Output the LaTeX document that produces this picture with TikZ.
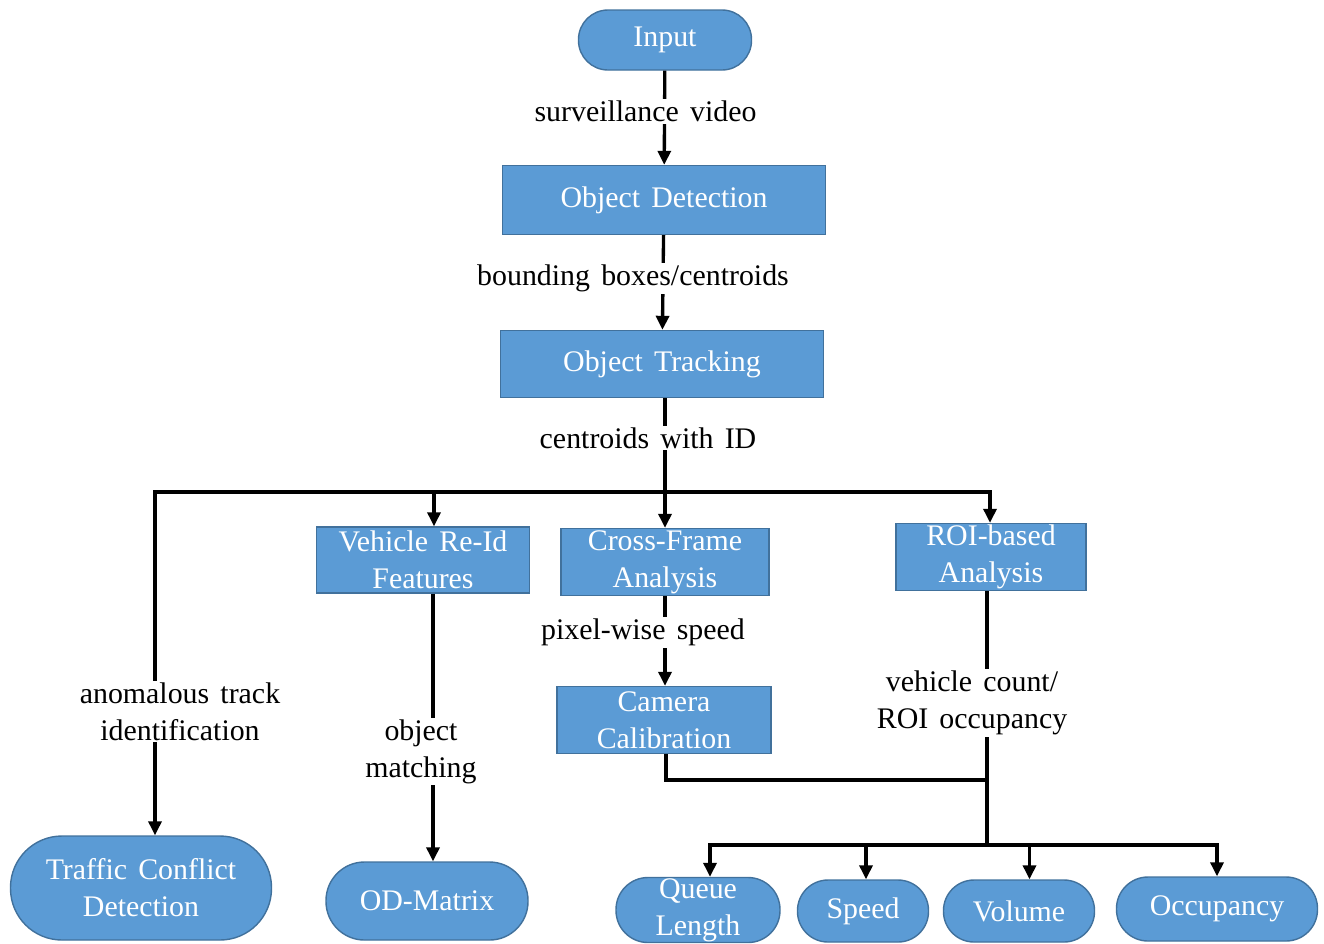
\documentclass[tikz,border=0pt]{standalone}
\usepackage{fontspec}
\setmainfont{Liberation Serif}[WordSpace=1.5]
\usepackage{tikz}
\usetikzlibrary{arrows.meta,positioning,calc}
\definecolor{boxfill}{HTML}{5B9BD5}
\definecolor{boxline}{HTML}{41719C}
\tikzset{
  box/.style={draw=boxline, line width=0.8pt, fill=boxfill, text=white,
    align=center, inner sep=0pt, font=\fontsize{17}{21}\selectfont},
  term/.style={box, rounded corners=#1},
  lbl/.style={fill=white, inner sep=1pt, align=center,
    font=\fontsize{17}{21}\selectfont},
  link/.style={line width=1.9pt, draw=black},
  flow/.style={link, -{Triangle[length=2.8mm, width=2.6mm]}},
}

\begin{document}
\begin{tikzpicture}[x=0.2mm, y=-0.2mm]
\useasboundingbox (0,0) rectangle (1324,943);
% ---------- main chain ----------
\node[term=5.9mm, minimum width=34.6mm, minimum height=12mm] (input) at (665,40) {Input};
\node[box, minimum width=64.6mm, minimum height=13.8mm] (detect) at (664,200) {Object Detection};
\node[box, minimum width=64.6mm, minimum height=13.4mm] (track) at (662,364) {Object Tracking};

% ---------- second row ----------
\node[box, minimum width=42.6mm, minimum height=13.2mm] (reid) at (423,560) {Vehicle Re-Id\\Features};
\node[box, minimum width=41.6mm, minimum height=13.4mm] (cross) at (665,562) {Cross-Frame\\Analysis};
\node[box, minimum width=38mm, minimum height=13.4mm] (roi) at (991,557) {ROI-based\\Analysis};
\node[box, minimum width=42.8mm, minimum height=13.4mm] (camera) at (664,720) {Camera\\Calibration};

% ---------- outputs ----------
\node[term=10.3mm, minimum width=52.2mm, minimum height=20.8mm] (conflict) at (141,888) {Traffic Conflict\\Detection};
\node[term=7.7mm, minimum width=40.4mm, minimum height=15.6mm] (odm) at (427,901) {OD-Matrix};
\node[term=6.4mm, minimum width=32.8mm, minimum height=13mm] (queue) at (698,910) {Queue\\Length};
\node[term=6.1mm, minimum width=26.2mm, minimum height=12.4mm] (speed) at (863,911) {Speed};
\node[term=6.1mm, minimum width=30.2mm, minimum height=12.4mm] (volume) at (1019,911) {Volume};
\node[term=6.3mm, minimum width=40.2mm, minimum height=12.8mm] (occup) at (1217,909) {Occupancy};

% ---------- junctions ----------
\coordinate (split) at (665,492);
\coordinate (merge) at (987,780);
\coordinate (join) at (987,845);

% ---------- connectors ----------
\draw[flow] (input) -- node[lbl, xshift=-3.8mm, yshift=1.2mm] {surveillance video} (detect);
\draw[flow] (detect) -- node[lbl, xshift=-6mm, yshift=0.8mm] {bounding boxes/centroids} (track);
\draw[link] (track.south -| split) -- node[lbl, xshift=-3.4mm, yshift=1.4mm] {centroids with ID} (split);
\draw[flow] (split) -- (cross.north -| split);
\draw[flow] (split) -| node[lbl, pos=0.82, xshift=5mm] {anomalous track\\identification} ([xshift=2.8mm]conflict.north);
\draw[flow] (split) -| ([xshift=2.2mm]reid.north);
\draw[flow] (split) -| ([xshift=-0.2mm]roi.north);
\draw[flow] ([xshift=2mm]reid.south) -- node[lbl, pos=0.59, xshift=-2.4mm] {object\\matching} ([xshift=2mm]reid.south |- odm.north);
\draw[flow] (cross.south -| split) -- node[lbl, xshift=-4.4mm, yshift=1.7mm] {pixel-wise speed} (camera.north -| split);
\draw[link] (roi.south -| join) -- node[lbl, pos=0.44, xshift=-3mm] {vehicle count/\\ROI occupancy} (join);
\draw[link] ([xshift=0.4mm]camera.south) |- (merge);
\draw[flow] (join) -| ([xshift=2.4mm]queue.north);
\draw[flow] (join) -| ([xshift=0.6mm]speed.north);
\draw[flow] (join) -| ([xshift=2.1mm]volume.north);
\draw[flow] (join) -| (occup.north);
\end{tikzpicture}
\end{document}
